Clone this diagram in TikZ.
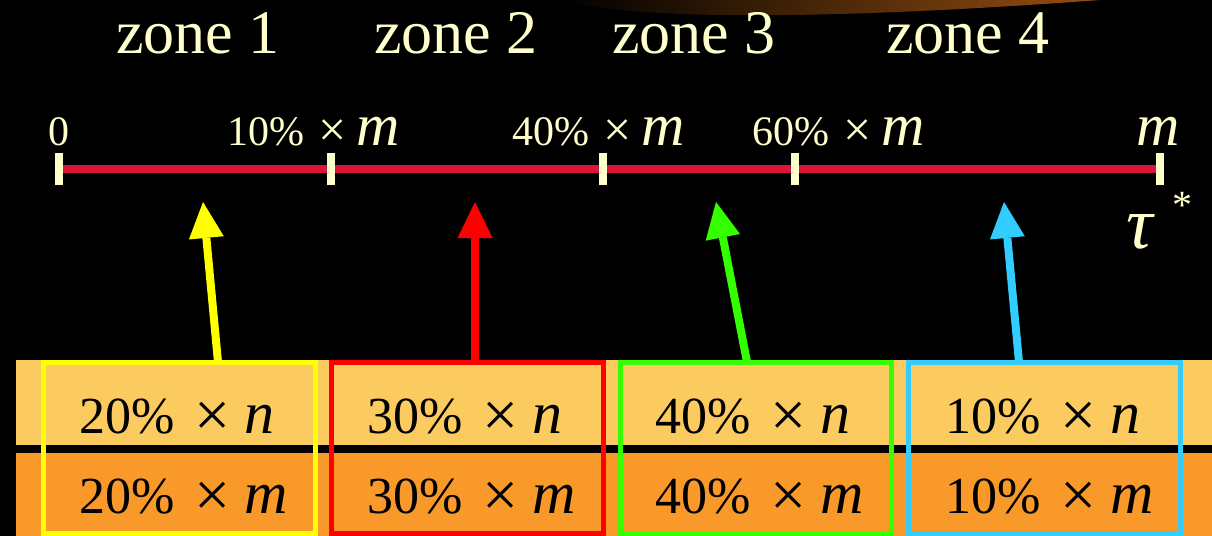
\documentclass[tikz,border=0pt]{standalone}
\usepackage{fontspec}
\setmainfont{Liberation Serif}
\usetikzlibrary{arrows.meta}
\definecolor{cream}{RGB}{255,255,204}
\definecolor{axisred}{RGB}{220,20,60}
\definecolor{barlight}{RGB}{252,203,95}
\definecolor{bardark}{RGB}{248,153,42}
\definecolor{zyellow}{RGB}{255,255,0}
\definecolor{zred}{RGB}{255,0,0}
\definecolor{zgreen}{RGB}{51,255,0}
\definecolor{zcyan}{RGB}{51,204,255}
\definecolor{glow}{RGB}{150,78,16}
\newcommand\numfont{\fontsize{21}{21}\selectfont}
\newcommand\varfont{\fontsize{30}{30}\selectfont\itshape}
\newcommand\cellfont{\fontsize{26}{26}\selectfont}
\newcommand\cellvar[1]{{\fontsize{30}{30}\selectfont\itshape #1}}
\newcommand\tickx{{\fontsize{25}{25}\selectfont\raisebox{-0.5pt}{×}}}
\newcommand\cellx{{\fontsize{32}{32}\selectfont\raisebox{-1.5pt}{×}}}
\begin{document}
\begin{tikzpicture}[x=0.5pt,y=-0.5pt,
  zonelbl/.style={text=cream, font=\fontsize{31}{31}\selectfont, anchor=base, inner sep=0},
  ticklbl/.style={text=cream, anchor=base west, inner sep=0},
  tickmark/.style={fill=cream, minimum width=4pt, minimum height=16pt, inner sep=0},
  zonebox/.style={line width=2.5pt},
  uparrow/.style={line width=4pt, -{Triangle[width=17.5pt,length=18pt,line width=0pt]}},
  cell/.style={text=black, font=\cellfont, anchor=base west, inner sep=0},
]
\fill[black] (0,0) rectangle (1212,536);
\useasboundingbox (0,0) rectangle (1212,536);
\shade[left color=black, right color=glow] (560,0) .. controls (650,25) and (900,15) .. (1100,0) -- cycle;

% zone labels
\node[zonelbl] (z1) at (198,53) {zone 1};
\node[zonelbl] (z2) at (456,53) {zone 2};
\node[zonelbl] (z3) at (694,53) {zone 3};
\node[zonelbl] (z4) at (968,53) {zone 4};

% axis
\coordinate (t0) at (59,169);
\coordinate (t1) at (331,169);
\coordinate (t2) at (603,169);
\coordinate (t3) at (795,169);
\coordinate (t4) at (1160,169);
\draw[axisred, line width=4pt] (t0) -- (t4);
\foreach \t in {t0,t1,t2,t3,t4} \node[tickmark] at (\t) {};

% tick labels
\node[text=cream, anchor=base, inner sep=0, font=\numfont] (l0) at (59,145) {0};
\node[ticklbl] (l1) at (227,145) {{\numfont 10\%\hspace{7pt}}\tickx\hspace{5pt}{\varfont m}};
\node[ticklbl] (l2) at (512,145) {{\numfont 40\%\hspace{7pt}}\tickx\hspace{5pt}{\varfont m}};
\node[ticklbl] (l3) at (752,145) {{\numfont 60\%\hspace{7pt}}\tickx\hspace{5pt}{\varfont m}};
\node[text=cream, anchor=base, inner sep=0] (l4) at (1158,145) {\varfont m};
\node[ticklbl] (tau) at (1126,248) {{\fontsize{37}{37}\selectfont\itshape τ}\hspace{10pt}\raisebox{15pt}{\fontsize{20}{20}\selectfont *}};

% bars
\fill[barlight] (16,360) rectangle (1212,445);
\fill[bardark] (16,453) rectangle (1212,536);

% arrows
\coordinate (a1s) at (218,362); \coordinate (a1e) at (203,202);
\coordinate (a2s) at (475,362); \coordinate (a2e) at (475,202);
\coordinate (a3s) at (747,362); \coordinate (a3e) at (716,202);
\coordinate (a4s) at (1019,362); \coordinate (a4e) at (1004,202);
\draw[uparrow, zyellow] (a1s) -- (a1e);
\draw[uparrow, zred] (a2s) -- (a2e);
\draw[uparrow, zgreen] (a3s) -- (a3e);
\draw[uparrow, zcyan] (a4s) -- (a4e);

% cell texts
\node[cell] (n1) at (79,433) {20\%\hspace{10pt}\cellx\hspace{7pt}\cellvar{n}};
\node[cell] (m1) at (79,513) {20\%\hspace{10pt}\cellx\hspace{7pt}\cellvar{m}};
\node[cell] (n2) at (367,433) {30\%\hspace{10pt}\cellx\hspace{7pt}\cellvar{n}};
\node[cell] (m2) at (367,513) {30\%\hspace{10pt}\cellx\hspace{7pt}\cellvar{m}};
\node[cell] (n3) at (655,433) {40\%\hspace{10pt}\cellx\hspace{7pt}\cellvar{n}};
\node[cell] (m3) at (655,513) {40\%\hspace{10pt}\cellx\hspace{7pt}\cellvar{m}};
\node[cell] (n4) at (945,433) {10\%\hspace{10pt}\cellx\hspace{7pt}\cellvar{n}};
\node[cell] (m4) at (945,513) {10\%\hspace{10pt}\cellx\hspace{7pt}\cellvar{m}};

% zone boxes
\draw[zonebox, zyellow] (43,362) rectangle (315,533);
\draw[zonebox, zred] (331,362) rectangle (603,533);
\draw[zonebox, zgreen] (620,362) rectangle (891,533);
\draw[zonebox, zcyan] (908,362) rectangle (1180,533);
\end{tikzpicture}
\end{document}
